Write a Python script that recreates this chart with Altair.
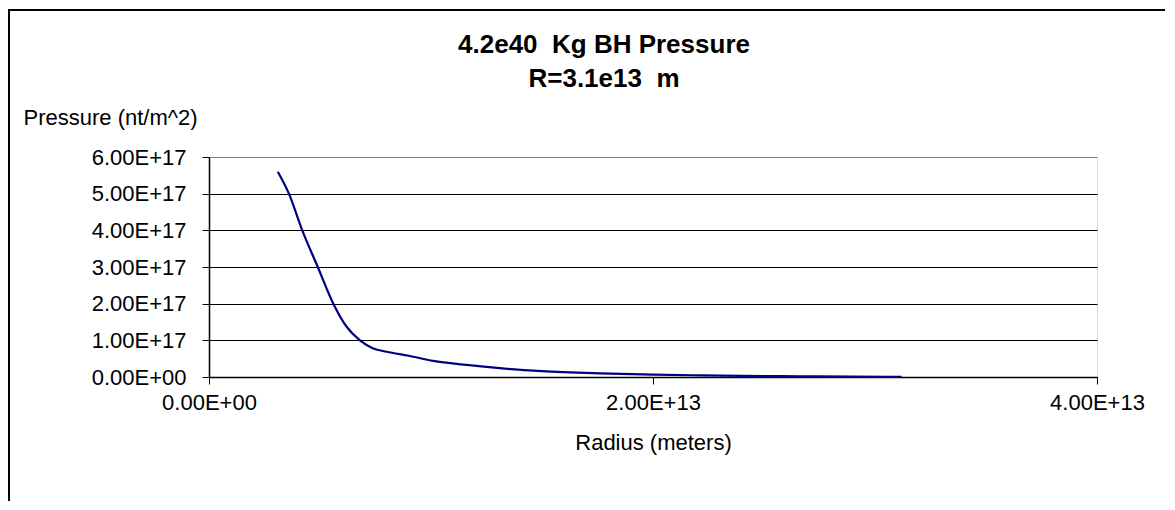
import altair as alt
import pandas as pd

# Data
radius_m = [3.1e12, 3.6e12, 4.2e12, 4.9e12, 5.6e12, 6.2e12, 6.8e12, 7.4e12, 8.0e12,
            9.0e12, 10.1e12, 11.6e12, 13.1e12, 15.0e12, 17.6e12, 20.0e12, 22.1e12,
            24.0e12, 26.6e12, 29.0e12, 31.2e12]
pressure = [5.6e17, 5.0e17, 4.0e17, 3.0e17, 2.0e17, 1.37e17, 1.0e17, 0.78e17, 0.69e17,
            0.58e17, 0.44e17, 0.33e17, 0.24e17, 0.16e17, 0.10e17, 0.065e17, 0.045e17,
            0.03e17, 0.02e17, 0.01e17, 0.005e17]

x_ticks = [0, 2e13, 4e13]
x_labels = ["0.00E+00", "2.00E+13", "4.00E+13"]
y_ticks = [0, 1e17, 2e17, 3e17, 4e17, 5e17, 6e17]
y_labels = ["0.00E+00", "1.00E+17", "2.00E+17", "3.00E+17", "4.00E+17", "5.00E+17", "6.00E+17"]

title_lines = ["4.2e40\u00a0\u00a0Kg BH Pressure", "R=3.1e13\u00a0\u00a0m"]
x_title = "Radius (meters)"
y_title = "Pressure (nt/m^2)"

FONT = "Liberation Sans"


def label_expr(values, labels):
    expr = "''"
    for v, l in zip(reversed(values), reversed(labels)):
        expr = f"(abs(datum.value - {v:.0f}) < 1 ? '{l}' : {expr})"
    return expr


df = pd.DataFrame({"r": radius_m, "p": pressure})
title_df = pd.DataFrame({"t": ["\n".join(title_lines)]})

W, H = 888, 220

line = alt.Chart(df).mark_line(color="#000080", strokeWidth=2.2, interpolate="monotone").encode(
    x=alt.X("r:Q",
            scale=alt.Scale(domain=[0, 4e13], nice=False, zero=True),
            axis=alt.Axis(values=x_ticks, labelExpr=label_expr(x_ticks, x_labels),
                          grid=False, title=x_title, titlePadding=19,
                          titleFontSize=22, titleFontWeight="normal", titleFont=FONT,
                          labelFont=FONT, labelFontSize=22, labelColor="#000000",
                          labelPadding=8, labelFlush=False,
                          tickColor="#000000", tickSize=7, domainColor="#000000",
                          domainWidth=1.5, titleColor="#000000")),
    y=alt.Y("p:Q",
            scale=alt.Scale(domain=[0, 6e17], nice=False),
            axis=alt.Axis(values=y_ticks, labelExpr=label_expr(y_ticks, y_labels),
                          grid=True,
                          gridColor=alt.condition("datum.value > 5.5e17", alt.value("#808080"), alt.value("#000000")),
                          gridWidth=1, labelPadding=16,
                          labelFont=FONT, labelFontSize=22, labelColor="#000000",
                          tickColor="#000000", tickSize=7, domainColor="#000000",
                          domainWidth=1.5,
                          title=y_title, titleAngle=0, titleAlign="left", titleBaseline="alphabetic",
                          titleX=-186, titleY=-33, titleFontSize=22, titleFontWeight="normal",
                          titleFont=FONT, titleColor="#000000")),
)

title_text = alt.Chart(title_df).mark_text(
    font=FONT, fontSize=26, fontWeight="bold", color="#000000",
    lineBreak="\n", lineHeight=34, align="center", baseline="alphabetic"
).encode(text="t:N", x=alt.value(395), y=alt.value(-104))

# outer chart frame (top and left edges)
frame_top = alt.Chart(title_df).mark_rule(color="#000000", strokeWidth=2).encode(
    x=alt.value(-200), x2=alt.value(963), y=alt.value(-147))
frame_left = alt.Chart(title_df).mark_rule(color="#000000", strokeWidth=2).encode(
    x=alt.value(-200), y=alt.value(-148), y2=alt.value(360))

chart = alt.layer(line, title_text, frame_top, frame_left).properties(
    width=W, height=H,
    padding={"left": 201, "top": 149, "right": 68, "bottom": 124},
    autosize=alt.AutoSizeParams(type="none"),
).configure_view(
    fill="#C0C0C0", stroke="#808080", strokeWidth=2
).configure(background="#FFFFFF")

chart.save("out.html", embed_options={"renderer": "svg", "actions": False})
